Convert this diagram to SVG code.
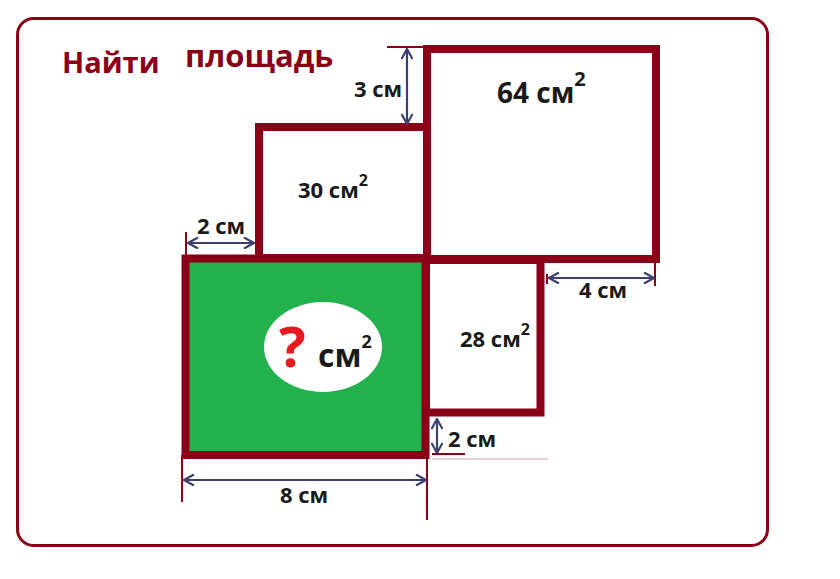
<svg xmlns="http://www.w3.org/2000/svg" width="840" height="579" viewBox="0 0 840 579">
<defs>
<style>
.frame{fill:none;stroke:#8b0016;stroke-width:3}
.box{fill:#fff;stroke:#8b0016;stroke-width:8}
.green{fill:#22b14c;stroke:#8b0016;stroke-width:8}
.dim{fill:none;stroke:#3c4070;stroke-width:2.2}
.tick{fill:none;stroke:#8b0016;stroke-width:2}
.lbl{font-family:"Open Sans","Liberation Sans",sans-serif;font-weight:700;fill:#1a1a1a}
.title{font-family:"Open Sans","Liberation Sans",sans-serif;font-weight:700;fill:#8b0016}
</style>
<marker id="ah" viewBox="0 0 12 12" refX="11" refY="6" markerWidth="12" markerHeight="12" markerUnits="userSpaceOnUse" orient="auto-start-reverse">
<path d="M1,0.5 L11,6 L1,11.5" fill="none" stroke="#3c4070" stroke-width="2.2"/>
</marker>
</defs>
<rect width="840" height="579" fill="#fff"/>
<rect class="frame" x="17.5" y="18.5" width="750" height="527" rx="16"/>
<g id="title">
<text class="title" x="62" y="73" font-size="29">Найти</text>
<text class="title" x="185" y="67" font-size="31">площадь</text>
</g>
<g id="sq64">
<rect class="box" x="427" y="49" width="229" height="210"/>
<text class="lbl" x="497" y="103" font-size="28">64 см<tspan font-size="20" dy="-17">2</tspan></text>
</g>
<g id="sq30">
<rect class="box" x="259" y="127" width="168" height="131"/>
<text class="lbl" x="298" y="198" font-size="22">30 см<tspan font-size="16" dy="-12">2</tspan></text>
</g>
<g id="sq28">
<rect class="box" x="426" y="260" width="114.5" height="152.5"/>
<text class="lbl" x="460" y="347" font-size="22">28 см<tspan font-size="16" dy="-12">2</tspan></text>
</g>
<g id="green">
<rect class="green" x="185.5" y="258.5" width="240" height="196.5"/>
<ellipse cx="323" cy="347" rx="59" ry="45" fill="#fff"/>
<text x="279" y="367" font-family="'Open Sans','Liberation Sans',sans-serif" font-weight="700" font-size="56" fill="#e8191f">?</text>
<text class="lbl" x="318" y="367" font-size="32">см<tspan font-size="18" dy="-19">2</tspan></text>
</g>
<g id="connectors">
<line class="tick" x1="387" y1="47" x2="425" y2="47"/>
<line class="dim" x1="407" y1="49" x2="407" y2="124" marker-start="url(#ah)" marker-end="url(#ah)"/>
<line class="tick" x1="186" y1="232" x2="186" y2="256"/>
<line class="dim" x1="188" y1="243" x2="254" y2="243" marker-start="url(#ah)" marker-end="url(#ah)"/>
<line class="tick" x1="655" y1="262" x2="655" y2="286"/>
<line class="tick" x1="547" y1="274" x2="547" y2="284" stroke="#3c4070"/>
<line class="dim" x1="549" y1="278" x2="654" y2="278" marker-start="url(#ah)" marker-end="url(#ah)"/>
<line class="dim" x1="437" y1="419" x2="437" y2="453" marker-start="url(#ah)" marker-end="url(#ah)"/>
<line class="tick" x1="432" y1="454" x2="465" y2="454"/>
<line x1="432" y1="459" x2="548" y2="459" stroke="#c9a0a6" stroke-width="1"/>
<line class="tick" x1="182" y1="455" x2="182" y2="502" stroke-width="1.5"/>
<line class="tick" x1="427" y1="455" x2="427" y2="520" stroke-width="1.5"/>
<line class="dim" x1="184" y1="480" x2="426" y2="480" marker-start="url(#ah)" marker-end="url(#ah)"/>
</g>
<g id="labels">
<text class="lbl" x="354" y="97" font-size="22">3 см</text>
<text class="lbl" x="197" y="234" font-size="22">2 см</text>
<text class="lbl" x="603" y="298" font-size="22" text-anchor="middle">4 см</text>
<text class="lbl" x="448" y="447" font-size="22">2 см</text>
<text class="lbl" x="304" y="503" font-size="22" text-anchor="middle">8 см</text>
</g>
</svg>
